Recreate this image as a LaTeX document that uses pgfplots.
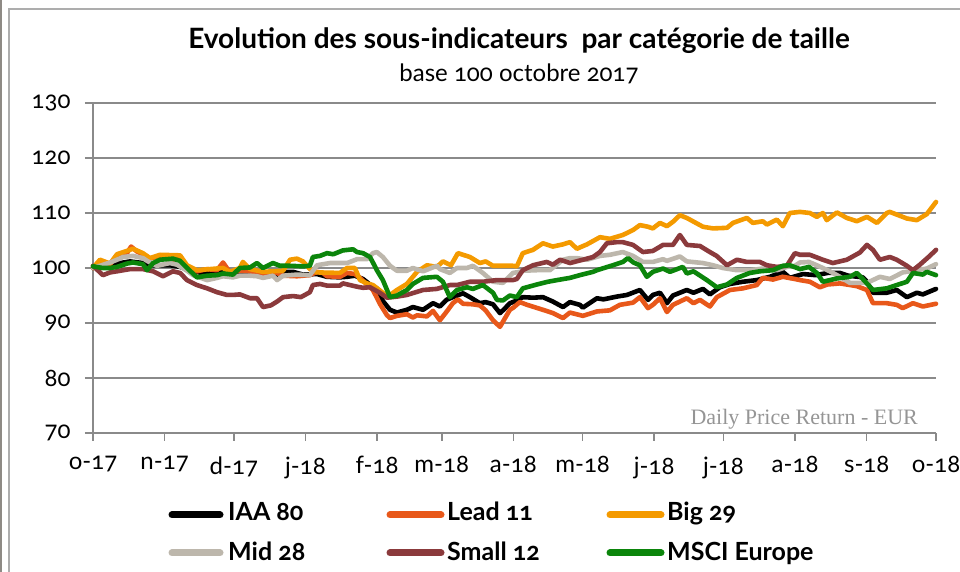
\documentclass[border=0pt]{standalone}
\usepackage{pgfplots}
\pgfplotsset{compat=1.18}
\usepackage{fontspec}
\setmainfont{Lato}[Numbers=OldStyle]
\newfontfamily\notefont{Liberation Serif}
\definecolor{cIAA}{HTML}{000000}
\definecolor{cLead}{HTML}{E8581A}
\definecolor{cBig}{HTML}{F49A00}
\definecolor{cMid}{HTML}{BDB7AC}
\definecolor{cSmall}{HTML}{8B3A3C}
\definecolor{cMSCI}{HTML}{0B850B}
\definecolor{gridc}{HTML}{8A8A8A}
\definecolor{notec}{HTML}{959595}
\definecolor{framec}{HTML}{8E8A85}
\begin{document}
\begin{tikzpicture}[x=1pt,y=1pt]
\path[use as bounding box] (0,0) rectangle (960,572);
\fill[framec] (0,0) rectangle (2,572);
\draw[gridc!70, line width=1.5pt] (9,0) -- (9,563) -- (960,563);
\begin{axis}[
  at={(93pt,139pt)}, anchor=south west,
  scale only axis, width=843pt, height=330pt,
  xmin=0, xmax=365, ymin=70, ymax=130,
  ytick={70,80,90,100,110,120,130},
  yticklabels={70,80,90,100,110,120,130},
  xtick={0,31,61,92,123,151,182,212,243,273,304,335,365},
  xticklabels={o-17,n-17,d-17,j-18,f-18,m-18,a-18,m-18,j-18,j-18,a-18,s-18,o-18},
  ymajorgrids,
  major grid style={gridc, line width=1.5pt},
  axis x line*=bottom, axis y line*=left,
  axis line style={gridc, line width=1.5pt, -},
  tick style={gridc, line width=1.5pt},
  tick align=outside, major tick length=8pt,
  ticklabel style={font=\fontsize{24}{24}\selectfont},
  yticklabel style={xshift=-11pt},
  xticklabel style={yshift=-12pt},
  clip=false,
  every axis plot/.append style={line width=4.6pt, line join=round, line cap=round},
]
% IAA 80
\addplot[cIAA] coordinates {
(0,100)(3,100.5)(7.4,100.2)(10.4,100.8)(16,101.2)(21.6,100.9)(26,100.5)(33.3,100.5)(37.7,100.2)(40.7,99.8)(45,99.1)(50.6,99.2)(56.3,99.6)(60,99.3)(68,99.3)(73.6,98.8)(79.7,98.8)(82.3,99.3)(86.6,99.3)(90.9,98.8)(97,98.9)(101.3,98.4)(106.9,98.3)(110,98.4)(113.4,98.6)(116.9,98)(119.9,97)(122.9,96.3)(125.5,94)(128.6,92.4)(131.6,91.9)(135.9,92.4)(138.5,92.9)(142.9,92.4)(147.2,93.6)(150.2,93)(153,94.2)(155.8,94.7)(160.2,95.4)(163.2,94.7)(167.5,93.6)(170,93.8)(173.2,93.4)(176.2,91.8)(178,92.5)(180.5,93.6)(183,94)(186.1,94.7)(190.5,94.6)(194.8,94.7)(199.1,93.9)(203.5,92.9)(206.5,93.8)(210.8,93.3)(212.1,92.8)(218.2,94.5)(221,94.3)(226.8,94.8)(231.2,95.1)(236.8,96)(240.3,94.2)(242.4,95.1)(245.5,95.5)(248.5,93.6)(251.1,95)(257.1,96)(260,95.5)(264.1,96.2)(267.1,95.2)(271.4,96.5)(275.8,97.1)(281.4,97.5)(287.4,97.8)(293.1,98.4)(298.7,99.3)(301.7,98.2)(307.4,98.9)(313,98.7)(318,99.1)(323.4,99.1)(327,98.6)(333.3,98.3)(335.1,97.5)(337.7,95.5)(343.7,95.5)(348,96)(352.4,94.7)(356.7,95.5)(359.3,95.2)(365,96.2)
};
% Lead 11
\addplot[cLead] coordinates {
(0,100)(3,101.3)(7.4,100.7)(10.4,102.3)(14.7,102.7)(16.5,103.9)(19,103)(21.6,102.5)(24.7,101.7)(29,102.2)(33.3,101.4)(37.7,101.8)(40.7,100.2)(45,99.4)(49.4,99.8)(53.7,99.6)(56.3,101)(59.3,99.2)(63.6,99.5)(68,99.4)(73.6,98.9)(77.9,99.4)(82.3,98.6)(88.3,98.5)(93.9,98.7)(97,99.3)(99.6,99.1)(101.3,98.5)(106.9,98.4)(110,99.1)(113.4,98.9)(115.6,98.2)(118.6,97)(121.2,96)(124.2,93.5)(127.3,91.4)(128.6,90.9)(131.6,91.3)(135.9,91.6)(138.5,91)(140.3,91.4)(144.6,91.2)(147.2,92.2)(150.2,90.5)(153,92)(155.8,93.6)(158,94.3)(160.2,93.5)(164.5,93.4)(167.5,93.2)(170,92.3)(173.2,90.5)(176.2,89.3)(178,90.6)(180.5,92.4)(182,92.8)(184.8,93.8)(188,93.3)(194.8,92.4)(199.1,91.8)(203.5,90.9)(206.5,91.9)(212.1,91.3)(218.2,92.1)(223.8,92.3)(228.1,93.3)(233.8,93.7)(236.8,94.7)(240.3,92.7)(242.4,93.3)(245.5,94.5)(248.5,92)(251.1,93.3)(257.1,94.5)(260,93.6)(262.8,94.2)(267.1,93)(270.1,94.7)(275.8,96)(281.4,96.3)(287.4,96.9)(290,98.2)(294.4,97.9)(298.7,98.4)(303.9,98)(306.1,97.8)(310.4,97.5)(314.7,96.5)(318,97)(323.4,97.2)(330.7,96.7)(335.1,96)(337.7,93.6)(343.7,93.6)(348,93.3)(350.6,92.7)(355,93.6)(359.3,93)(365,93.5)
};
% Big 29
\addplot[cBig] coordinates {
(0,100)(3,101.5)(7.4,100.8)(10.4,102.5)(16,103.3)(17.3,103.5)(21.6,102.7)(24.7,101.8)(29,102.4)(37.7,102.3)(40.7,100.5)(45,99.6)(50.6,99.8)(56.3,100)(59.3,99.3)(63.6,100)(64.9,101.1)(68,99.8)(73.6,99.3)(82.3,99.5)(85.3,101.5)(88.3,101.7)(90.9,101.2)(93.9,99.8)(97,99.2)(106.9,99.1)(110,100)(113.4,100)(115.6,97.8)(118.6,97.2)(121.2,96.9)(125.5,95.5)(127.3,94.7)(131.6,96)(135.9,97.1)(140.3,99.3)(144.6,100.5)(148.9,100.2)(151.5,101.2)(155,100.5)(158,102.7)(163.2,102)(167.5,100.9)(170,101.2)(173.2,100.4)(181.8,100.4)(183.5,100.3)(186.1,102.7)(190.5,103.3)(194.8,104.5)(199.1,103.9)(203.5,104.3)(206.5,104.7)(209.5,103.5)(213.9,104.3)(219.5,105.6)(223.8,105.3)(229.4,106)(233.8,106.9)(236.8,107.8)(240.3,107.5)(242.4,107.2)(245.5,108.2)(248.5,107.6)(251.1,108.4)(254.1,109.6)(257.1,109.1)(264.1,107.5)(268.4,107.2)(274.5,107.3)(277.1,108.2)(283.1,109.1)(285.7,108.2)(290,108.5)(291.8,107.9)(296.1,108.8)(298.7,107.6)(301.7,110)(306.1,110.2)(310.4,110)(313.4,109.3)(316,110)(317.7,108.7)(322.1,110.1)(326.4,109.1)(330.7,108.5)(335.1,109.3)(339.4,108.2)(343.7,110)(345,110.2)(352.4,109)(356.7,108.7)(361,109.8)(365,112)
};
% Mid 28
\addplot[cMid] coordinates {
(0,100)(3,100.4)(7.4,101)(10.4,101.5)(13,102)(17.3,102.2)(21.6,101.8)(23.4,101.3)(27.7,100.4)(33.3,100.9)(36.4,100.6)(40.7,99.5)(43.3,98.7)(49.4,97.8)(53.7,98.2)(56.3,98.5)(60.6,98.3)(63.6,98.6)(68,98.6)(71,98.5)(73.6,98.2)(77.9,98.6)(79.7,97.8)(82.3,98.6)(88.3,98.8)(93.9,98.7)(97,100.5)(102.6,100.9)(110,100.9)(114.3,101.6)(118.6,101.6)(121.2,102.7)(122.9,102.9)(125.5,102)(128.6,100.4)(131.6,99.5)(135.9,99.5)(138.5,100)(142.9,99.4)(148.9,100.4)(150.2,99.8)(154.5,99.1)(157.6,100)(161.9,100)(164.5,100.4)(168.8,99.1)(173.2,97.5)(177.5,97.3)(181.8,99.1)(184.8,99.3)(186.1,99.5)(192.2,99.6)(197.8,99.6)(203.5,101.5)(206.5,101.8)(209.5,101.8)(213.9,101.5)(219.5,102.2)(223.8,102.4)(229.4,102.9)(233.8,102.2)(238.1,101.1)(242.4,101.1)(246.8,101.6)(248.5,101.3)(254.1,102.1)(257.1,101.2)(264.1,100.9)(268.4,100.5)(272.7,100)(278.8,99.6)(284.4,99.6)(290,99.9)(296.1,99.6)(300.4,100.2)(303.9,100.4)(306.1,101)(310,101.1)(313.4,100.5)(319,99.4)(323,98.5)(327.7,97.3)(335.1,97.3)(340.7,98.4)(345,98)(350.6,99.2)(356.7,99.6)(361,99.9)(365,100.7)
};
% Small 12
\addplot[cSmall] coordinates {
(0,100.4)(4.3,98.7)(7.4,99.2)(10.4,99.4)(16,99.8)(21.6,99.8)(26,99.4)(30.3,98.5)(34.6,99.4)(37.7,99.1)(40.7,97.8)(45,96.9)(49.4,96.3)(53.7,95.6)(58,95.1)(60.6,95.1)(63.6,95.2)(68,94.5)(71,94.5)(73.6,92.9)(77,93.2)(79.7,93.9)(82.3,94.7)(86.6,94.9)(90,94.7)(93.9,95.6)(95.2,96.9)(98.3,97.1)(101.3,96.8)(106.9,96.8)(108.2,97.2)(114.3,96.6)(116.9,96.4)(119.9,96.5)(124.2,95.5)(127.3,94.6)(131.6,94.8)(135.9,95.1)(142.9,96)(148.9,96.2)(154.5,96.9)(157.6,96.9)(163.2,97.5)(168.8,97.5)(174.9,97.8)(181.8,97.8)(183.5,98)(186.1,99.6)(190.5,100.5)(196.5,101.1)(199.1,100.6)(202.2,101.5)(206.5,100.9)(212.1,101.5)(216.5,102)(219.5,102.9)(222.5,104.5)(226.8,104.7)(229.4,104.7)(233.8,104.2)(238.1,102.9)(242.4,103.1)(246.8,104.2)(251.1,104.2)(254.1,106)(257.1,104.2)(262.8,104)(267.1,102.9)(270,102.2)(274.5,100.5)(278.8,101.5)(283.1,101.1)(288.7,101.1)(291.8,100.5)(296.1,100.2)(300.4,100.4)(303.9,102.7)(306.1,102.4)(310.4,102.4)(316,101.5)(320.3,100.9)(326.4,101.5)(332,102.8)(335.1,104.2)(337.7,103.3)(340.7,101.5)(345,102)(348,101.5)(352.4,100.4)(355,99.6)(358,100.6)(362.3,102.2)(365,103.3)
};
% MSCI Europe
\addplot[cMSCI] coordinates {
(0,100.3)(4.3,100)(7.4,100)(10.4,100.2)(14.7,100.8)(17.3,101)(21.6,100.7)(23.4,99.6)(26,100.9)(29,101.5)(34.6,101.7)(37.7,101.3)(40.7,100)(45,98.3)(49.4,98.6)(53.7,98.7)(56.3,99)(60.6,98.8)(63.6,100)(68,100.1)(71,100.9)(73.6,100)(77.9,100.9)(81,100.4)(85.3,100.4)(90.9,100.3)(93.9,100.4)(95.2,102)(98.3,102.2)(101.3,102.7)(104,102.5)(108.2,103.2)(112.6,103.4)(114.3,102.9)(116.9,102.7)(119.9,102)(121.2,101)(122.9,99.6)(125.5,97.8)(128.6,94.7)(131.6,95)(135.9,96)(138.5,97.1)(142.9,98.2)(148.9,98.4)(151.5,97.5)(154.5,94.7)(157.6,96)(161.9,96.5)(164.5,96.2)(168.8,96.9)(173.2,95.5)(174.9,94.2)(177.5,94.1)(180.5,95)(183.5,94.7)(186.1,96.3)(192.2,97)(197,97.5)(200.9,97.8)(206.5,98.2)(210.8,98.7)(216.5,99.3)(218.2,99.6)(225.1,100.5)(229.4,101.1)(231.6,101.8)(234,101)(236.8,100.5)(239.8,98.4)(242.4,99.3)(246.8,99.9)(249.8,99.3)(255.4,100.2)(257.1,99)(260,99.4)(265.8,97.8)(270.1,96.5)(274.5,97)(278.8,98.2)(284.4,99.1)(288.7,99.4)(294.4,99.6)(298.7,100.4)(301.7,100.5)(306.1,99.8)(310,100.2)(313.4,99.1)(316,97.5)(322.1,98.1)(327.7,98.4)(330.7,99.1)(333.3,98)(337.7,96)(343.7,96.3)(348,96.9)(352.4,97.5)(355,99.1)(359.3,98.8)(361,99.3)(365,98.7)
};
\end{axis}
% titles
\node[anchor=base, font=\bfseries\fontsize{28}{28}\selectfont] at (519,523) {Evolution des sous-indicateurs\ \ par catégorie de taille};
\node[anchor=base, font=\fontsize{24}{24}\selectfont] at (519,490) {base 100 octobre 2017};
\node[anchor=base east, inner sep=0pt, text=notec, font=\notefont\fontsize{22}{22}\selectfont] at (918,147) {Daily Price Return - EUR};
% legend
\begin{scope}[line width=7pt, line cap=round]
\draw[cIAA] (172,57) -- (220,57);
\draw[cLead] (390,57) -- (441,57);
\draw[cBig] (610,57) -- (661,57);
\draw[cMid] (172,19) -- (220,19);
\draw[cSmall] (390,19) -- (441,19);
\draw[cMSCI] (610,19) -- (661,19);
\end{scope}
\begin{scope}[every node/.style={anchor=base west, inner sep=0pt, font=\bfseries\fontsize{25}{25}\selectfont}]
\node at (228,51) {IAA 80};
\node at (447,51) {Lead 11};
\node at (667,51) {Big 29};
\node at (228,11) {Mid 28};
\node at (447,11) {Small 12};
\node at (667,11) {MSCI Europe};
\end{scope}
\end{tikzpicture}
\end{document}
